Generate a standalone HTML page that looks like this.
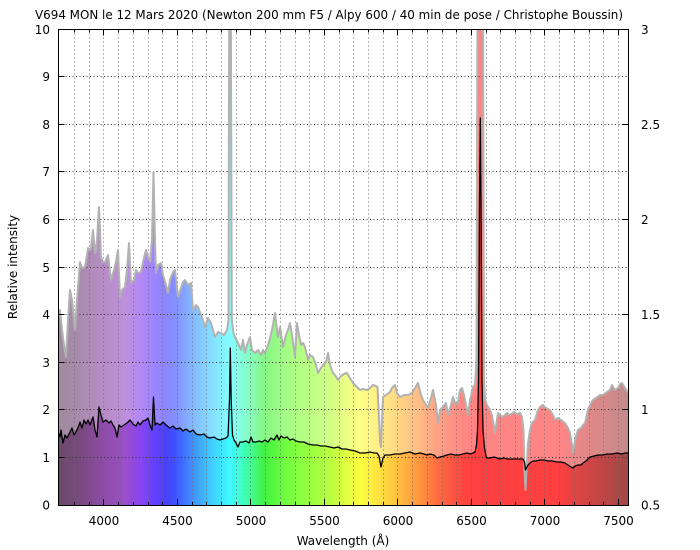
<!DOCTYPE html>
<html>
<head>
<meta charset="utf-8">
<style>
html,body{margin:0;padding:0;background:#fff;}
svg{display:block;}
text{font-family:"DejaVu Sans","Liberation Sans",sans-serif;font-size:12px;fill:#000;}
</style>
</head>
<body>
<svg width="700" height="550" viewBox="0 0 700 550" xmlns="http://www.w3.org/2000/svg">
<defs>
<linearGradient id="rb" gradientUnits="userSpaceOnUse" x1="58.5" y1="0" x2="628.5" y2="0">
<stop offset="0" stop-color="#6a4a68"/>
<stop offset="0.038" stop-color="#784a80"/>
<stop offset="0.073" stop-color="#8a4ca0"/>
<stop offset="0.117" stop-color="#9a50c8"/>
<stop offset="0.143" stop-color="#8a46f0"/>
<stop offset="0.161" stop-color="#7040ff"/>
<stop offset="0.187" stop-color="#4a40ff"/>
<stop offset="0.204" stop-color="#4050ff"/>
<stop offset="0.231" stop-color="#4088ff"/>
<stop offset="0.266" stop-color="#40c8ff"/>
<stop offset="0.301" stop-color="#40fcff"/>
<stop offset="0.318" stop-color="#40ffd0"/>
<stop offset="0.336" stop-color="#40ff98"/>
<stop offset="0.362" stop-color="#44f040"/>
<stop offset="0.406" stop-color="#78ff40"/>
<stop offset="0.476" stop-color="#b8ff40"/>
<stop offset="0.505" stop-color="#e0ff40"/>
<stop offset="0.529" stop-color="#fcff40"/>
<stop offset="0.564" stop-color="#ffe040"/>
<stop offset="0.599" stop-color="#ffbc40"/>
<stop offset="0.634" stop-color="#ff9440"/>
<stop offset="0.669" stop-color="#ff6840"/>
<stop offset="0.704" stop-color="#ff4a40"/>
<stop offset="0.725" stop-color="#ff4040"/>
<stop offset="0.880" stop-color="#ff4040"/>
<stop offset="0.906" stop-color="#e04444"/>
<stop offset="0.950" stop-color="#c24646"/>
<stop offset="1" stop-color="#a04848"/>
</linearGradient>
<clipPath id="plot"><rect x="58.5" y="29.5" width="570" height="476"/></clipPath>
</defs>

<text x="35" y="19" textLength="588" lengthAdjust="spacingAndGlyphs">V694 MON le 12 Mars 2020 (Newton 200 mm F5 / Alpy 600 / 40 min de pose / Christophe Boussin)</text>

<g clip-path="url(#plot)">
<path fill="url(#rb)" fill-opacity="0.64" d="M58.5,505.5 L58.5,318 60,310 62,330 64,345 66,357 68,320 70,290 72,300 75,330 77,300 80,262 82,268 85,267 87,255 88,248 90,250 91,248 93,230 95,253 96,250 97,240 99,207 100,230 101,257 103,262 105,262 108,255 111,280 114,270 116,262 118,250 120,297 122,290 125,287 127,270 129,243 131,283 134,280 136,270 138,273 141,272 143,262 146,250 148,257 150,262 152,240 153.5,172 155,240 156,273 158,265 161,263 163,275 166,285 168,293 170,280 173,272 175,270 178,297 181,288 183,282 185,280 188,285 191,283 193,310 196,305 198,307 201,315 203,320 205,327 208,318 211,323 213,330 215,337 218,332 221,333 224,335 227,330 228.5,320 229.2,0 230.8,0 231.8,320 233.5,333 235,337 238,343 241,350 243,340 245,353 247,345 250,337 252,350 255,353 258,350 261,355 263,350 265,353 268,345 270,338 272,330 275,313 277,330 278,337 280,327 283,347 286,335 288,330 290,323 292,335 295,357 297,323 299,335 301,345 303,343 305,347 308,360 310,355 313,357 316,365 318,373 321,368 323,365 326,362 328,353 330,365 333,373 335,375 338,380 341,376 344,374 347,373 350,378 353,383 356,386 360,390 363,389 367,390 370,388 373,385 376,386 377.5,387 378.5,407 380,440 381,447 382,420 383,397 386,395 390,392 392,388 395,385 397,393 400,397 404,395 408,395 412,393 415,388 418,383 421,395 423,400 426,405 428,407 431,398 433,390 436,405 438,423 440,410 443,407 446,403 448,415 451,405 453,397 456,405 458,402 460,390 462,388 464,395 466,405 468,415 470,400 473,387 475,385 476.5,360 477.5,0 483,0 484,380 485,400 487,405 490,410 492,415 495,433 498,413 500,415 503,417 507,413 510,415 514,412 517,414 520,413 522,417 523.5,430 524.5,470 525.5,490 526.5,470 528,443 530,430 532,423 535,420 538,410 540,407 543,405 546,408 550,410 553,415 555,420 558,418 561,420 565,423 568,428 570,433 572,445 573,453 575,440 578,430 581,428 583,425 585,423 588,410 590,405 593,400 596,398 600,395 603,395 607,392 610,390 612,385 615,390 618,388 620,384 622,383 625,388 628.5,393 L628.5,505.5 Z"/>
<path fill="url(#rb)" d="M58.5,505.5 L58.5,433 60,437 61,430 63,443 65,435 67,438 70,432 72,428 74,435 77,430 79,425 80,422 82,428 84,420 86,424 88,420 90,425 93,417 95,430 97,437 99,407 101,415 103,422 106,420 109,423 111,421 113,425 115,428 117,437 119,425 121,427 124,425 127,423 130,420 133,424 136,426 138,422 140,425 143,421 146,420 148,418 150,425 152,430 153.5,397 155,425 157,423 160,425 163,422 166,425 170,428 173,426 176,429 180,428 183,431 186,429 190,432 193,430 196,434 200,435 204,434 207,437 210,438 214,437 217,439 220,440 223,439 226,438 228,436 229.5,400 230.3,348 231.2,400 232.5,435 234,440 236,443 238,447 240,442 243,442 246,441 249,443 251,437 253,442 256,442 259,441 262,442 265,440 268,442 271,438 274,440 277,435 279,440 281,436 284,438 287,437 290,440 293,439 296,441 300,442 304,442 308,444 313,445 317,445 321,446 325,446 330,447 334,448 338,447 342,449 346,449 350,450 355,451 360,453 365,453 370,452 374,453 377,453 379,456 381,467 383,458 385,455 390,455 395,454 400,454 405,453 410,452 415,454 420,453 424,454 427,455 430,454 434,455 437,458 440,457 444,456 447,455 451,454 455,455 459,455 463,454 467,453 470,454 473,453 475,452 476.5,445 477.5,430 478.5,380 479.5,200 480.3,118 481,200 482,380 483,430 484.5,448 486,456 487,458 490,458 494,457 497,458 500,459 504,458 507,459 511,459 515,459 519,459 523,459 524.5,462 525.5,470 526.5,468 528,465 530,463 533,461 536,461 540,460 544,460 548,461 552,461 557,462 561,462 565,463 568,465 571,467 573,468 575,466 578,465 581,465 583,463 586,461 590,457 594,456 598,455 603,455 607,454 612,454 617,453 622,454 625,453 628.5,453 L628.5,505.5 Z"/>

<g stroke="#6a6a6a" stroke-width="1" stroke-dasharray="1 3" fill="none">
<path d="M74.5,29.5V505 M89.5,29.5V505 M103.5,29.5V505 M118.5,29.5V505 M133.5,29.5V505 M148.5,29.5V505 M162.5,29.5V505 M177.5,29.5V505 M192.5,29.5V505 M206.5,29.5V505 M221.5,29.5V505 M236.5,29.5V505 M250.5,29.5V505 M265.5,29.5V505 M280.5,29.5V505 M295.5,29.5V505 M309.5,29.5V505 M324.5,29.5V505 M339.5,29.5V505 M353.5,29.5V505 M368.5,29.5V505 M383.5,29.5V505 M397.5,29.5V505 M412.5,29.5V505 M427.5,29.5V505 M442.5,29.5V505 M456.5,29.5V505 M471.5,29.5V505 M486.5,29.5V505 M500.5,29.5V505 M515.5,29.5V505 M530.5,29.5V505 M544.5,29.5V505 M559.5,29.5V505 M574.5,29.5V505 M589.5,29.5V505 M603.5,29.5V505 M618.5,29.5V505"/>
</g>
<g stroke="#333" stroke-width="1" stroke-dasharray="1 2.5" fill="none">
<path d="M58.5,457.5H628.5 M58.5,409.5H628.5 M58.5,362.5H628.5 M58.5,314.5H628.5 M58.5,267.5H628.5 M58.5,219.5H628.5 M58.5,171.5H628.5 M58.5,124.5H628.5 M58.5,76.5H628.5"/>
</g>

<polyline fill="none" stroke="#b2b2b2" stroke-width="2" stroke-linejoin="round" points="58.5,318 60,310 62,330 64,345 66,357 68,320 70,290 72,300 75,330 77,300 80,262 82,268 85,267 87,255 88,248 90,250 91,248 93,230 95,253 96,250 97,240 99,207 100,230 101,257 103,262 105,262 108,255 111,280 114,270 116,262 118,250 120,297 122,290 125,287 127,270 129,243 131,283 134,280 136,270 138,273 141,272 143,262 146,250 148,257 150,262 152,240 153.5,172 155,240 156,273 158,265 161,263 163,275 166,285 168,293 170,280 173,272 175,270 178,297 181,288 183,282 185,280 188,285 191,283 193,310 196,305 198,307 201,315 203,320 205,327 208,318 211,323 213,330 215,337 218,332 221,333 224,335 227,330 228.5,320 229.2,0 230.8,0 231.8,320 233.5,333 235,337 238,343 241,350 243,340 245,353 247,345 250,337 252,350 255,353 258,350 261,355 263,350 265,353 268,345 270,338 272,330 275,313 277,330 278,337 280,327 283,347 286,335 288,330 290,323 292,335 295,357 297,323 299,335 301,345 303,343 305,347 308,360 310,355 313,357 316,365 318,373 321,368 323,365 326,362 328,353 330,365 333,373 335,375 338,380 341,376 344,374 347,373 350,378 353,383 356,386 360,390 363,389 367,390 370,388 373,385 376,386 377.5,387 378.5,407 380,440 381,447 382,420 383,397 386,395 390,392 392,388 395,385 397,393 400,397 404,395 408,395 412,393 415,388 418,383 421,395 423,400 426,405 428,407 431,398 433,390 436,405 438,423 440,410 443,407 446,403 448,415 451,405 453,397 456,405 458,402 460,390 462,388 464,395 466,405 468,415 470,400 473,387 475,385 476.5,360 477.5,0 483,0 484,380 485,400 487,405 490,410 492,415 495,433 498,413 500,415 503,417 507,413 510,415 514,412 517,414 520,413 522,417 523.5,430 524.5,470 525.5,490 526.5,470 528,443 530,430 532,423 535,420 538,410 540,407 543,405 546,408 550,410 553,415 555,420 558,418 561,420 565,423 568,428 570,433 572,445 573,453 575,440 578,430 581,428 583,425 585,423 588,410 590,405 593,400 596,398 600,395 603,395 607,392 610,390 612,385 615,390 618,388 620,384 622,383 625,388 628.5,393"/>

<polyline fill="none" stroke="#000" stroke-width="1.3" stroke-linejoin="round" points="58.5,433 60,437 61,430 63,443 65,435 67,438 70,432 72,428 74,435 77,430 79,425 80,422 82,428 84,420 86,424 88,420 90,425 93,417 95,430 97,437 99,407 101,415 103,422 106,420 109,423 111,421 113,425 115,428 117,437 119,425 121,427 124,425 127,423 130,420 133,424 136,426 138,422 140,425 143,421 146,420 148,418 150,425 152,430 153.5,397 155,425 157,423 160,425 163,422 166,425 170,428 173,426 176,429 180,428 183,431 186,429 190,432 193,430 196,434 200,435 204,434 207,437 210,438 214,437 217,439 220,440 223,439 226,438 228,436 229.5,400 230.3,348 231.2,400 232.5,435 234,440 236,443 238,447 240,442 243,442 246,441 249,443 251,437 253,442 256,442 259,441 262,442 265,440 268,442 271,438 274,440 277,435 279,440 281,436 284,438 287,437 290,440 293,439 296,441 300,442 304,442 308,444 313,445 317,445 321,446 325,446 330,447 334,448 338,447 342,449 346,449 350,450 355,451 360,453 365,453 370,452 374,453 377,453 379,456 381,467 383,458 385,455 390,455 395,454 400,454 405,453 410,452 415,454 420,453 424,454 427,455 430,454 434,455 437,458 440,457 444,456 447,455 451,454 455,455 459,455 463,454 467,453 470,454 473,453 475,452 476.5,445 477.5,430 478.5,380 479.5,200 480.3,118 481,200 482,380 483,430 484.5,448 486,456 487,458 490,458 494,457 497,458 500,459 504,458 507,459 511,459 515,459 519,459 523,459 524.5,462 525.5,470 526.5,468 528,465 530,463 533,461 536,461 540,460 544,460 548,461 552,461 557,462 561,462 565,463 568,465 571,467 573,468 575,466 578,465 581,465 583,463 586,461 590,457 594,456 598,455 603,455 607,454 612,454 617,453 622,454 625,453 628.5,453"/>
</g>

<g stroke="#000" stroke-width="1" fill="none">
<path d="M58.5,457.5h6 M58.5,409.5h6 M58.5,362.5h6 M58.5,314.5h6 M58.5,267.5h6 M58.5,219.5h6 M58.5,171.5h6 M58.5,124.5h6 M58.5,76.5h6"/>
<path d="M628.5,409.5h-6 M628.5,314.5h-6 M628.5,219.5h-6 M628.5,124.5h-6"/>
<path d="M74.5,505v-3 M89.5,505v-3 M103.5,505v-6 M118.5,505v-3 M133.5,505v-3 M148.5,505v-3 M162.5,505v-3 M177.5,505v-6 M192.5,505v-3 M206.5,505v-3 M221.5,505v-3 M236.5,505v-3 M250.5,505v-6 M265.5,505v-3 M280.5,505v-3 M295.5,505v-3 M309.5,505v-3 M324.5,505v-6 M339.5,505v-3 M353.5,505v-3 M368.5,505v-3 M383.5,505v-3 M397.5,505v-6 M412.5,505v-3 M427.5,505v-3 M442.5,505v-3 M456.5,505v-3 M471.5,505v-6 M486.5,505v-3 M500.5,505v-3 M515.5,505v-3 M530.5,505v-3 M544.5,505v-6 M559.5,505v-3 M574.5,505v-3 M589.5,505v-3 M603.5,505v-3 M618.5,505v-6"/>
<path d="M74.5,29.5v3 M89.5,29.5v3 M103.5,29.5v6 M118.5,29.5v3 M133.5,29.5v3 M148.5,29.5v3 M162.5,29.5v3 M177.5,29.5v6 M192.5,29.5v3 M206.5,29.5v3 M221.5,29.5v3 M236.5,29.5v3 M250.5,29.5v6 M265.5,29.5v3 M280.5,29.5v3 M295.5,29.5v3 M309.5,29.5v3 M324.5,29.5v6 M339.5,29.5v3 M353.5,29.5v3 M368.5,29.5v3 M383.5,29.5v3 M397.5,29.5v6 M412.5,29.5v3 M427.5,29.5v3 M442.5,29.5v3 M456.5,29.5v3 M471.5,29.5v6 M486.5,29.5v3 M500.5,29.5v3 M515.5,29.5v3 M530.5,29.5v3 M544.5,29.5v6 M559.5,29.5v3 M574.5,29.5v3 M589.5,29.5v3 M603.5,29.5v3 M618.5,29.5v6"/>
<rect x="58.5" y="29.5" width="570" height="476"/>
</g>

<g text-anchor="end">
<text x="50" y="509.5">0</text>
<text x="50" y="462">1</text>
<text x="50" y="414">2</text>
<text x="50" y="367">3</text>
<text x="50" y="319">4</text>
<text x="50" y="272">5</text>
<text x="50" y="224">6</text>
<text x="50" y="176">7</text>
<text x="50" y="129">8</text>
<text x="50" y="81">9</text>
<text x="50" y="34">10</text>
</g>
<g>
<text x="641" y="509.5">0.5</text>
<text x="641" y="414">1</text>
<text x="641" y="319">1.5</text>
<text x="641" y="224">2</text>
<text x="641" y="129">2.5</text>
<text x="641" y="34">3</text>
</g>
<g text-anchor="middle">
<text x="104" y="525">4000</text>
<text x="177.5" y="525">4500</text>
<text x="251" y="525">5000</text>
<text x="324.5" y="525">5500</text>
<text x="398" y="525">6000</text>
<text x="471.5" y="525">6500</text>
<text x="545" y="525">7000</text>
<text x="618.5" y="525">7500</text>
</g>
<text x="343" y="545" text-anchor="middle">Wavelength (Å)</text>
<text transform="translate(17,267) rotate(-90)" text-anchor="middle">Relative intensity</text>
</svg>
</body>
</html>
